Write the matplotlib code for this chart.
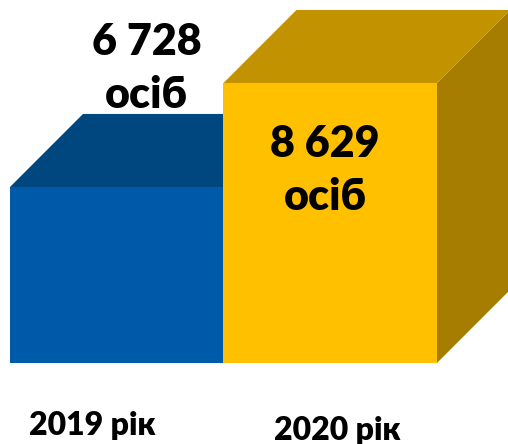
import matplotlib
matplotlib.use('Agg')
import matplotlib.pyplot as plt

plt.rcParams['font.family'] = ['Lato', 'Noto Sans', 'DejaVu Sans']

# дані
years = ['2019 рік', '2020 рік']
values = [6728, 8629]
value_labels = ['6 728', '8 629']
unit = 'осіб'

front_colors = ['#005AAA', '#FFC000']
top_colors = ['#00467F', '#C39200']
side_colors = ['#003A6A', '#A67D00']

# масштаб осі (3D-ефект)
floor = 3511
depth_x = 0.342
depth_y = 1335
width = 1.0

fig = plt.figure(figsize=(5.08, 4.44), dpi=100)
ax = fig.add_axes([0, 0, 1, 1])
ax.set_xlim(-0.5468, 1.8326)
ax.set_ylim(floor - 1481, floor + 6635)
ax.axis('off')

for i, v in enumerate(values):
    x0 = i - width / 2
    x1 = i + width / 2
    # бокова грань
    ax.fill([x1, x1 + depth_x, x1 + depth_x, x1],
            [floor, floor + depth_y, v + depth_y, v],
            color=side_colors[i], lw=0, zorder=2 * i + 1)
    # верхня грань
    ax.fill([x0, x0 + depth_x, x1 + depth_x, x1],
            [v, v + depth_y, v + depth_y, v],
            color=top_colors[i], lw=0, zorder=2 * i + 1)
    # передня грань
    ax.fill([x0, x1, x1, x0], [floor, floor, v, v],
            color=front_colors[i], lw=0, zorder=2 * i + 2)

# підписи значень
lbl = dict(ha='center', va='baseline', fontsize=31, fontweight='heavy', zorder=10)
ax.text(0.14, values[0] + 2413, value_labels[0], **lbl)
ax.text(0.14, values[0] + 1444, unit, **lbl)
ax.text(0.975, values[1] - 1353, value_labels[1], **lbl)
ax.text(0.975, values[1] - 2321, unit, **lbl)

# підписи років
yr = dict(ha='center', va='baseline', fontsize=23, fontweight='heavy')
ax.text(-0.116, floor - 1316, years[0], **yr)
ax.text(1.032, floor - 1407, years[1], **yr)

fig.savefig('out.png', dpi=100)
